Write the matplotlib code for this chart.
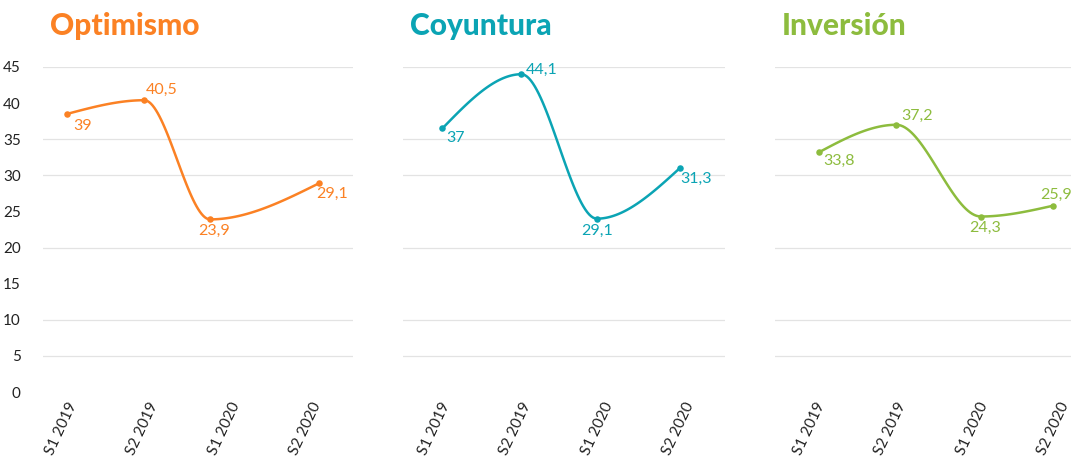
import matplotlib.pyplot as plt
import numpy as np

# Data
periods = ["S1 2019", "S2 2019", "S1 2020", "S2 2020"]
titles = ["Optimismo", "Coyuntura", "Inversión"]

opt_x = [0, 0.95, 1.76, 3.1]
opt_y = [38.5, 40.4, 23.9, 28.9]
opt_labels = ["39", "40,5", "23,9", "29,1"]

coy_x = [0.03, 1.0, 1.93, 2.95]
coy_y = [36.5, 44.0, 24.0, 31.0]
coy_labels = ["37", "44,1", "29,1", "31,3"]

inv_x = [0.05, 1.0, 2.04, 2.93]
inv_y = [33.2, 37.0, 24.3, 25.8]
inv_labels = ["33,8", "37,2", "24,3", "25,9"]

yticks = [0, 5, 10, 15, 20, 25, 30, 35, 40, 45]
grid_vals = [5, 10, 20, 30, 35, 45]

colors = ["#FB8124", "#0BA4B4", "#8DBC3E"]

# label offsets in pixels (dx, dy, ha, va)
label_pos = [
    [(6, -5, "left", "top"), (2, 3, "left", "bottom"), (4, -5, "center", "top"), (-3, -4, "left", "top")],
    [(4, -3, "left", "top"), (4, 4, "left", "center"), (0, -5, "center", "top"), (0, -4, "left", "top")],
    [(4, -2, "left", "top"), (5, 2, "left", "bottom"), (4, -4, "center", "top"), (3, 4, "center", "bottom")],
]


def monotone(x, y, n=40):
    # d3 curveMonotoneX style interpolation
    x = np.asarray(x, float)
    y = np.asarray(y, float)
    h = np.diff(x)
    s = np.diff(y) / h
    m = np.zeros(len(x))
    for i in range(1, len(x) - 1):
        p = (s[i - 1] * h[i] + s[i] * h[i - 1]) / (h[i - 1] + h[i])
        m[i] = (np.sign(s[i - 1]) + np.sign(s[i])) * min(abs(s[i - 1]), abs(s[i]), 0.5 * abs(p))
    m[0] = (3 * s[0] - m[1]) / 2
    m[-1] = (3 * s[-1] - m[-2]) / 2
    xs, ys = [], []
    for i in range(len(x) - 1):
        t = np.linspace(0, 1, n)
        h00 = 2 * t**3 - 3 * t**2 + 1
        h10 = t**3 - 2 * t**2 + t
        h01 = -2 * t**3 + 3 * t**2
        h11 = t**3 - t**2
        xs.append(x[i] + t * h[i])
        ys.append(h00 * y[i] + h10 * h[i] * m[i] + h01 * y[i + 1] + h11 * h[i] * m[i + 1])
    return np.concatenate(xs), np.concatenate(ys)


W, H = 1071, 457
fig = plt.figure(figsize=(W / 100, H / 100), dpi=100)
plt.rcParams['font.family'] = ['Lato', 'DejaVu Sans']

# axes extents in pixels: left, right, first tick
panels = [(43, 353, 67), (403, 725, 440), (775, 1071, 815)]
unit = 81.3
y_top, y_bot = 67, 392

series = [(opt_x, opt_y, opt_labels), (coy_x, coy_y, coy_labels), (inv_x, inv_y, inv_labels)]

for k, (l, r, t0) in enumerate(panels):
    ax = fig.add_axes([l / W, 1 - y_bot / H, (r - l) / W, (y_bot - y_top) / H])
    xs, ys, labs = series[k]
    c = colors[k]
    cx, cy = monotone(xs, ys)
    ax.plot(cx, cy, color=c, lw=1.8, solid_capstyle="round", zorder=3)
    ax.scatter(xs, ys, s=22, color=c, zorder=4, linewidths=0)
    for i in range(4):
        dx, dy, ha, va = label_pos[k][i]
        ax.annotate(labs[i], (xs[i], ys[i]), xytext=(dx, dy), textcoords="offset pixels",
                    ha=ha, va=va, color=c, fontsize=11.5, annotation_clip=False, zorder=5)
    for g in grid_vals:
        ax.axhline(g, color="#e3e3e3", lw=0.9, zorder=1)
    ax.set_xlim(-(t0 - l) / unit, (r - t0) / unit)
    ax.set_ylim(0, 45)
    ax.set_xticks(range(4))
    ax.set_xticklabels(periods, rotation=65, ha="right", rotation_mode="anchor",
                       fontsize=11, color="#222222")
    ax.tick_params(axis="x", length=0, pad=6)
    if k == 0:
        ax.set_yticks(yticks)
        ax.set_yticklabels([str(v) for v in yticks], fontsize=11, color="#222222")
        ax.tick_params(axis="y", length=0, pad=16)
    else:
        ax.set_yticks([])
    for sp in ax.spines.values():
        sp.set_visible(False)
    fig.text((l + 7) / W, 1 - 35 / H, titles[k], color=c, fontsize=21.5, fontweight="black",
             ha="left", va="baseline")

fig.savefig("out.png", dpi=100)
